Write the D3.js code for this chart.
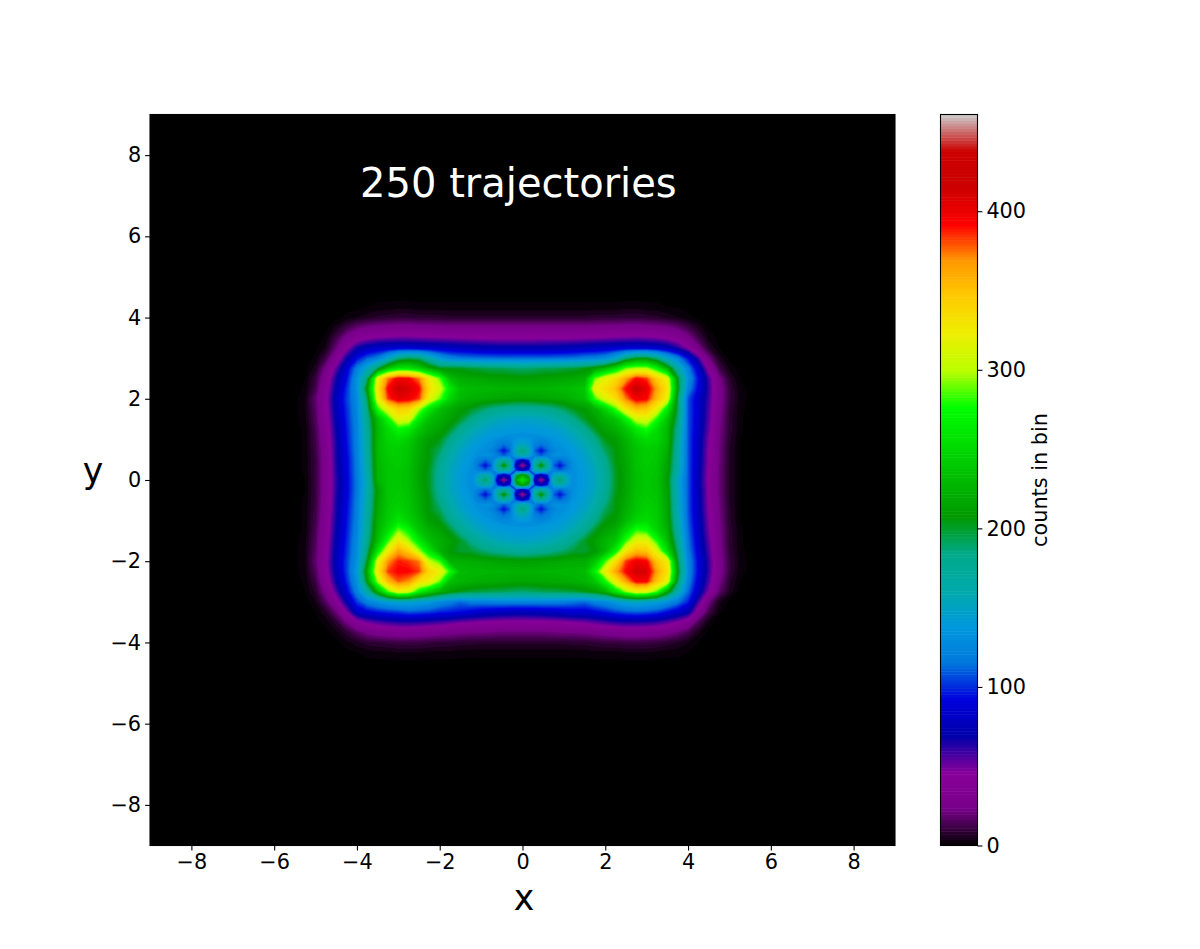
<!DOCTYPE html>
<html>
<head>
<meta charset="utf-8">
<script src="https://cdn.jsdelivr.net/npm/d3@7"></script>
<style>
body { margin: 0; background: #fff; }
text { font-family: "DejaVu Sans", sans-serif; }
</style>
</head>
<body>
<svg id="chart" width="1200" height="949"></svg>
<script>
// ticks and labels
const xTicks = [-8, -6, -4, -2, 0, 2, 4, 6, 8];
const yTicks = [-8, -6, -4, -2, 0, 2, 4, 6, 8];
const barTicks = [0, 100, 200, 300, 400];
const titleText = "250 trajectories";
const barLabel = "counts in bin";
const maxCount = 461;

// nipy_spectral stops: position, r, g, b
const cmapPos = [0, .05, .1, .15, .2, .25, .3, .35, .4, .45, .5, .55, .6, .65, .7, .75, .8, .85, .9, .95, 1];
const cmapR = [0, .4667, .5333, 0, 0, 0, 0, 0, 0, 0, 0, 0, 0, .7333, .9333, 1, 1, 1, .8, .8, .8];
const cmapG = [0, 0, 0, 0, 0, .4667, .6, .6667, .6667, .6, .7333, .8667, 1, 1, .9333, .8, .6, 0, 0, 0, .8];
const cmapB = [0, .5333, .6, .6667, .8667, .8667, .8667, .6667, .5333, 0, 0, 0, 0, 0, 0, 0, 0, 0, 0, 0, .8];

// counts, x from -5.5 to 5.5 by .25, y from 4.75 to -4.75 by .25
const counts = [
[0,0,0,0,0,0, 0,0,0,0,0,0,0,0,0,0,0, 0,0,0,0,0,0,0,0,0,0,0, 0,0,0,0,0,0,0,0,0,0,0, 0,0,0,0,0,0],
[0,0,0,0,0,0, 0,0,1,1,1,1,1,1,1,1,1, 1,1,1,1,1,1,1,1,1,1,1, 1,1,1,1,1,1,1,1,1,0,0, 0,0,0,0,0,0],
[0,0,0,0,0,1, 1,2,3,3,4,4,3,3,3,3,3, 3,3,3,3,3,3,3,3,3,3,3, 3,3,3,3,4,4,3,3,2,2,1, 0,0,0,0,0,0],
[0,0,0,0,1,3, 5,7,9,10,11,11,10,10,10,9,9, 9,9,9,9,9,9,9,9,9,9,9, 9,10,10,10,11,11,10,9,7,5,3, 1,0,0,0,0,0],
[0,0,0,1,6,14, 21,25,27,28,29,29,28,28,27,27,27, 27,27,27,27,27,27,27,27,27,27,27, 27,27,28,28,29,29,28,27,25,21,14, 7,2,0,0,0,0],
[0,0,0,3,14,28, 40,46,50,52,53,53,52,51,50,49,48, 47,47,46,46,46,46,46,47,47,47,47, 48,49,50,51,52,53,52,50,46,38,27, 14,4,1,0,0,0],
[0,0,1,6,22,45, 68,78,84,86,88,88,86,85,83,82,80, 78,76,75,74,74,74,74,74,75,76,78, 80,82,84,86,88,88,86,84,78,66,48, 26,9,2,0,0,0],
[0,0,3,14,36,68, 95,112,122,150,185,195,190,165,140,125,120, 118,117,116,115,115,115,115,115,116,117,118, 122,124,130,150,185,205,205,185,150,125,95, 60,24,7,1,0,0],
[0,0,7,26,55,88, 122,155,195,240,262,262,245,222,205,205,205, 200,198,195,195,192,190,192,195,195,198,200, 205,215,230,255,290,300,300,270,225,170,122, 85,42,14,4,1,0],
[0,2,12,34,68,95, 135,190,320,375,400,395,375,325,290,235,222, 220,218,215,215,213,212,213,215,216,218,220, 225,290,320,335,365,395,385,345,320,205,135, 95,60,26,9,2,0],
[0,3,15,40,74,102, 135,215,330,395,418,410,395,335,310,265,235, 232,230,230,228,228,228,228,228,230,232,235, 240,320,335,355,395,420,405,365,330,210,125, 92,62,30,12,3,1],
[1,5,20,44,78,105, 130,195,320,385,405,400,385,320,290,250,230, 225,222,220,218,216,215,216,218,220,222,228, 235,285,315,335,375,400,395,355,320,195,110, 85,60,30,12,4,1],
[1,5,18,42,76,102, 128,185,280,320,345,340,300,262,235,222,212, 205,195,185,180,176,175,176,180,185,195,206, 210,225,250,285,330,355,350,320,265,195,110, 85,58,28,11,3,1],
[1,4,17,40,74,100, 127,180,235,275,320,315,265,235,225,215,203, 185,171,162,155,152,151,152,155,162,171,185, 203,215,228,240,270,310,315,280,240,190,110, 84,56,27,10,3,0],
[0,3,15,37,70,98, 125,175,230,255,275,265,240,225,216,203,180, 165,153,146,142,140,139,140,142,146,153,165, 180,203,216,225,240,265,280,255,230,180,110, 82,54,25,10,3,0],
[0,3,14,35,68,96, 125,172,232,250,255,245,225,212,206,183,165, 151,142,136,133,133,132,133,133,136,142,151, 165,183,206,212,228,245,255,250,230,175,110, 80,50,24,9,2,0],
[0,3,13,33,67,94, 124,170,232,245,245,238,222,207,195,170,153, 142,135,132,132,132,132,132,132,132,135,142, 153,170,195,207,224,238,245,242,225,170,110, 79,48,23,8,2,0],
[0,3,12,32,66,92, 122,168,230,242,245,238,220,208,183,162,147, 137,132,132,132,132,132,132,132,132,132,137, 147,162,183,208,220,238,244,240,220,168,110, 78,47,23,8,2,0],
[0,3,12,32,65,91, 122,165,228,240,242,235,218,204,177,156,143, 134,132,132,132,132,132,132,132,132,132,134, 143,156,177,204,218,236,242,238,216,165,110, 76,46,22,8,2,0],
[0,2,12,32,63,90, 120,160,228,240,240,235,218,203,175,155,142, 134,132,132,132,132,132,132,132,132,132,134, 142,155,175,203,218,235,240,236,212,152,110, 75,45,22,8,2,0],
[0,2,12,32,64,90, 120,162,215,240,242,236,220,204,177,156,143, 134,132,132,132,132,132,132,132,132,132,134, 143,156,177,204,218,236,240,238,215,155,110, 76,46,22,8,2,0],
[0,3,12,33,66,92, 122,165,218,240,245,238,222,208,183,162,147, 137,132,132,132,132,132,132,132,132,132,137, 147,162,183,208,220,238,244,240,216,158,110, 77,47,23,8,2,0],
[0,3,13,34,67,94, 123,168,220,242,250,240,225,207,195,170,153, 142,135,132,132,132,132,132,132,132,135,142, 153,170,195,207,225,240,248,242,218,160,110, 78,48,24,9,2,0],
[0,3,14,36,69,96, 125,172,225,245,262,248,232,212,206,183,165, 151,142,136,133,133,132,133,133,136,142,151, 165,183,206,212,232,250,255,245,220,165,112, 80,50,25,9,2,0],
[0,3,16,38,71,98, 127,175,228,258,295,275,240,225,216,203,180, 165,153,146,142,140,139,140,142,146,153,165, 180,203,216,225,255,285,280,250,225,170,115, 82,52,26,10,3,0],
[1,4,17,40,74,100, 130,180,235,285,330,300,265,235,225,215,203, 185,171,162,155,152,151,152,155,162,171,185, 203,215,228,240,285,320,320,280,235,180,118, 85,55,27,10,3,0],
[1,5,18,42,76,102, 132,190,262,325,365,345,300,262,225,210,200, 200,192,185,180,175,172,175,180,185,192,200, 200,210,230,270,330,355,350,315,255,190,122, 88,58,28,11,3,1],
[1,5,20,44,78,105, 135,205,315,370,390,385,375,305,285,225,225, 222,220,218,216,215,214,215,216,218,220,222, 222,240,285,335,385,400,395,350,325,200,128, 92,62,30,12,4,1],
[1,4,17,42,76,105, 140,225,330,385,395,395,385,340,325,280,232, 230,230,228,228,226,226,226,228,228,230,230, 232,270,325,365,395,415,410,365,335,210,130, 92,62,30,12,3,1],
[0,3,13,36,70,100, 135,210,300,355,380,370,335,325,290,235,228, 225,222,222,220,218,218,218,220,222,222,225, 228,240,275,325,365,395,395,350,320,195,125, 88,58,26,9,2,0],
[0,2,9,28,58,90, 125,170,225,285,320,310,270,245,225,212,205, 200,198,196,195,192,190,192,195,196,198,200, 205,212,225,260,295,320,315,285,220,165,115, 80,48,20,7,1,0],
[0,1,5,18,40,72, 105,125,135,145,150,150,145,140,130,122,115, 122,122,124,125,125,125,125,125,124,122,118, 115,125,130,140,150,155,150,145,135,120,100, 60,24,6,1,0,0],
[0,0,2,8,22,48, 82,92,98,102,105,110,108,105,100,98,95, 90,85,82,80,78,78,78,80,82,85,88, 88,92,98,105,110,112,110,105,95,85,75, 38,14,3,0,0,0],
[0,0,1,3,10,24, 42,52,58,62,65,66,64,62,60,56,52, 50,48,46,45,45,44,45,45,46,48,50, 52,56,60,64,66,66,65,62,56,48,36, 16,4,0,0,0,0],
[0,0,0,1,4,10, 18,25,29,31,33,33,32,30,28,27,25, 24,24,23,22,22,22,22,22,23,24,24, 25,27,29,31,33,33,32,30,27,22,15, 6,1,0,0,0,0],
[0,0,0,0,1,4, 7,10,11,12,13,13,13,12,11,11,10, 10,9,9,9,9,9,9,9,9,9,10, 10,11,12,12,13,13,13,12,10,8,5, 2,0,0,0,0,0],
[0,0,0,0,0,1, 2,3,4,4,5,5,5,4,4,4,3, 3,3,3,3,3,3,3,3,3,3,3, 3,4,4,4,5,5,5,4,3,3,2, 1,0,0,0,0,0],
[0,0,0,0,0,0, 0,1,1,1,1,1,1,1,1,1,1, 1,1,1,1,1,1,1,1,1,1,1, 1,1,1,1,1,1,1,1,1,1,0, 0,0,0,0,0,0],
[0,0,0,0,0,0, 0,0,0,0,0,0,0,0,0,0,0, 0,0,0,0,0,0,0,0,0,0,0, 0,0,0,0,0,0,0,0,0,0,0, 0,0,0,0,0,0]
];

// finer reading of the dots in the middle, x from -1.35 to 1.35 by .15, y from 1.2 to -1.2 by .12
const centerCounts = [
[132,132,132,132,132,132,132,132,132,132,132,132,132,132,132,132,132,132,132],
[132,132,132,132,132,132,132,132,132,132,132,132,132,132,132,132,132,132,132],
[132,132,132,132,132,128,125,128,140,145,140,128,125,128,132,132,132,132,132],
[132,132,132,132,132,121,112,121,149,164,149,121,112,121,132,132,132,132,132],
[132,132,132,132,125,112,95,112,164,190,164,112,95,112,125,132,132,132,132],
[132,132,132,132,132,121,112,121,149,164,149,121,112,121,132,132,132,132,132],
[132,132,121,112,121,157,178,157,100,72,100,157,178,157,121,112,121,132,132],
[132,132,112,95,112,178,215,178,72,42,72,178,215,178,112,95,112,132,132],
[132,132,121,112,121,157,178,157,100,72,100,157,178,157,121,112,121,132,132],
[132,132,151,167,151,100,72,100,190,225,190,100,72,100,151,167,151,132,132],
[132,132,167,195,167,72,42,72,225,262,225,72,42,72,167,195,167,132,132],
[132,132,151,167,151,100,72,100,190,225,190,100,72,100,151,167,151,132,132],
[132,132,121,112,121,157,178,157,100,72,100,157,178,157,121,112,121,132,132],
[132,132,112,95,112,178,215,178,72,42,72,178,215,178,112,95,112,132,132],
[132,132,121,112,121,157,178,157,100,72,100,157,178,157,121,112,121,132,132],
[132,132,132,132,132,121,112,121,149,164,149,121,112,121,132,132,132,132,132],
[132,132,132,132,125,112,95,112,164,190,164,112,95,112,125,132,132,132,132],
[132,132,132,132,132,121,112,121,149,164,149,121,112,121,132,132,132,132,132],
[132,132,132,132,132,128,125,128,140,145,140,128,125,128,132,132,132,132,132],
[132,132,132,132,132,132,132,132,132,132,132,132,132,132,132,132,132,132,132],
[132,132,132,132,132,132,132,132,132,132,132,132,132,132,132,132,132,132,132]
];

var svg = d3.select("#chart");

// plot box
var plot = {left: 150, right: 895, top: 114.5, bottom: 845.5};
var bar = {left: 940.5, right: 977.5};

var x = d3.scaleLinear().domain([-9, 9]).range([plot.left, plot.right]);
var y = d3.scaleLinear().domain([-9, 9]).range([plot.bottom, plot.top]);
var barY = d3.scaleLinear().domain([0, maxCount]).range([plot.bottom, plot.top]);

// colour scale from the stops
var spectral = d3.scaleLinear()
    .domain(cmapPos)
    .range(cmapPos.map(function(p, i) {
        return d3.rgb(cmapR[i] * 255, cmapG[i] * 255, cmapB[i] * 255);
    }));
var color = function(v) { return spectral(v / maxCount); };

svg.append("rect")
    .attr("x", plot.left)
    .attr("y", plot.top)
    .attr("width", plot.right - plot.left)
    .attr("height", plot.bottom - plot.top)
    .attr("fill", color(0));

var thresholds = d3.range(2, maxCount, 3);

function drawDensity(rows, x0, y0, dx, dy) {
    var w = rows[0].length, h = rows.length;
    var contours = d3.contours().size([w, h]).thresholds(thresholds)(rows.flat());
    var path = d3.geoPath(d3.geoTransform({
        point: function(px, py) {
            this.stream.point(x(x0 + (px - 0.5) * dx), y(y0 - (py - 0.5) * dy));
        }
    }));
    var g = svg.append("g");
    g.selectAll("path")
        .data(contours.filter(function(c) { return c.coordinates.length > 0; }))
        .enter()
        .append("path")
        .attr("d", path)
        .attr("fill", function(d) { return color(d.value); });
    return g;
}

drawDensity(counts, -5.5, 4.75, 0.25, 0.25);

// the dot patch is cut to an ellipse so no square edge shows on the flat middle
svg.append("clipPath")
    .attr("id", "dots")
    .append("ellipse")
    .attr("cx", x(0))
    .attr("cy", y(0))
    .attr("rx", x(1.3) - x(0))
    .attr("ry", y(0) - y(1.15));

// opacity forces one layer, otherwise the clip edge picks up every contour colour
drawDensity(centerCounts, -1.35, 1.2, 0.15, 0.12)
    .attr("clip-path", "url(#dots)")
    .style("opacity", 0.999);

// frame
svg.append("rect")
    .attr("x", plot.left)
    .attr("y", plot.top)
    .attr("width", plot.right - plot.left)
    .attr("height", plot.bottom - plot.top)
    .attr("fill", "none")
    .attr("stroke", "#000")
    .attr("stroke-width", 1.1);

function fmt(d) { return String(d).replace("-", "\u2212"); }

function styleAxis(g) {
    g.select(".domain").remove();
    g.selectAll("line").attr("stroke", "#000").attr("stroke-width", 1.1);
    g.selectAll("text").attr("fill", "#000").style("font-size", "20.8px");
}

svg.append("g")
    .attr("transform", "translate(0," + plot.bottom + ")")
    .call(d3.axisBottom(x).tickValues(xTicks).tickFormat(fmt).tickSize(4.9).tickPadding(4))
    .call(styleAxis);

svg.append("g")
    .attr("transform", "translate(" + plot.left + ",0)")
    .call(d3.axisLeft(y).tickValues(yTicks).tickFormat(fmt).tickSize(4.9).tickPadding(4))
    .call(styleAxis);

// title and axis labels
svg.append("text")
    .attr("x", x(-0.1))
    .attr("y", 197)
    .attr("text-anchor", "middle")
    .attr("fill", "#fff")
    .style("font-size", "40px")
    .text(titleText);

svg.append("text")
    .attr("x", 524)
    .attr("y", 910)
    .attr("text-anchor", "middle")
    .style("font-size", "34.7px")
    .text("x");

svg.append("text")
    .attr("x", 93)
    .attr("y", 483)
    .attr("text-anchor", "middle")
    .style("font-size", "34.7px")
    .text("y");

// colorbar, 256 levels like the original
var levels = d3.range(256);
svg.append("g")
    .selectAll("rect")
    .data(levels)
    .enter()
    .append("rect")
    .attr("x", bar.left)
    .attr("width", bar.right - bar.left)
    .attr("y", function(d) { return barY((d + 1) / 256 * maxCount); })
    .attr("height", function(d) { return barY(d / 256 * maxCount) - barY((d + 1) / 256 * maxCount) + 0.5; })
    .attr("fill", function(d) { return spectral((d + 0.5) / 256); });

svg.append("rect")
    .attr("x", bar.left)
    .attr("y", plot.top)
    .attr("width", bar.right - bar.left)
    .attr("height", plot.bottom - plot.top)
    .attr("fill", "none")
    .attr("stroke", "#000")
    .attr("stroke-width", 1.1);

svg.append("g")
    .attr("transform", "translate(" + bar.right + ",0)")
    .call(d3.axisRight(barY).tickValues(barTicks).tickSize(4.9).tickPadding(4))
    .call(styleAxis);

svg.append("text")
    .attr("transform", "translate(1047,480) rotate(-90)")
    .attr("text-anchor", "middle")
    .style("font-size", "20.8px")
    .text(barLabel);
</script>
</body>
</html>
